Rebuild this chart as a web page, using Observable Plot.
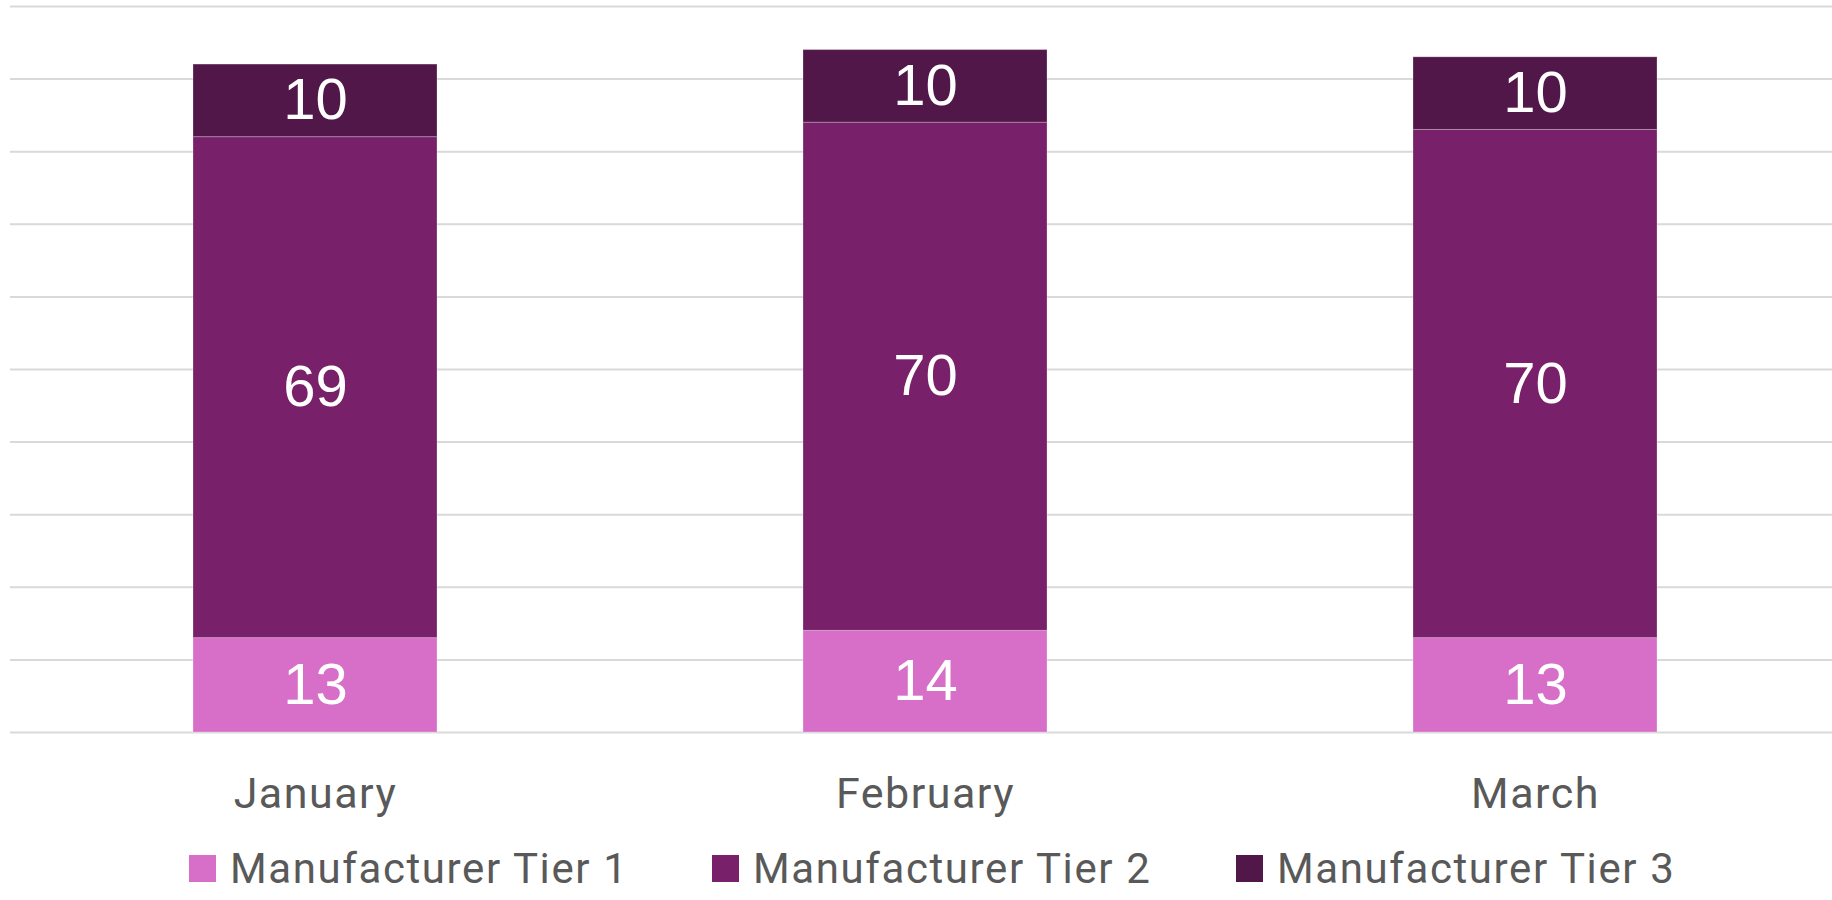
<!DOCTYPE html>
<html>
<head>
<meta charset="utf-8">
<script src="https://cdn.jsdelivr.net/npm/d3@7"></script>
<script src="https://cdn.jsdelivr.net/npm/@observablehq/plot@0.6"></script>
<style>
  html, body { margin: 0; padding: 0; background: #fff; }
  #chart svg { display: block; }
  #chart svg g[aria-label="x-axis tick label"] text { letter-spacing: 1.5px; }
  .legend { position: relative; height: 70px; font-family: Roboto, "Liberation Sans", sans-serif; font-size: 42px; color: #595959; letter-spacing: 1.6px; }
  .legend .item { position: absolute; top: 14px; display: flex; align-items: center; white-space: nowrap; }
  .legend .sw { width: 27px; height: 27px; margin-right: 14px; display: inline-block; }
</style>
</head>
<body>
<div id="chart"></div>
<div class="legend" id="legend"></div>
<script>
const months = ["January", "February", "March"];
const series = ["Manufacturer Tier 1", "Manufacturer Tier 2", "Manufacturer Tier 3"];
const tier1 = [13, 14, 13];
const tier2 = [69, 70, 70];
const tier3 = [10, 10, 10];
const colors = ["#D76EC8", "#782069", "#511749"];
const yTicks = [0, 10, 20, 30, 40, 50, 60, 70, 80, 90, 100];

const values = [tier1, tier2, tier3];
const data = [];
series.forEach((s, si) => months.forEach((m, mi) => data.push({month: m, series: s, value: values[si][mi]})));

const chart = Plot.plot({
  width: 1832,
  height: 830,
  marginLeft: 10,
  marginRight: 0,
  marginTop: 6,
  marginBottom: 98,
  x: {type: "band", domain: months, range: [10, 1840], paddingInner: 0.6, paddingOuter: 0.3, align: 0.5, label: null},
  y: {domain: [0, 100], axis: null},
  color: {domain: series, range: colors},
  style: {background: "#fff"},
  marks: [
    Plot.ruleY(yTicks, {stroke: "#D9D9D9", strokeWidth: 2}),
    Plot.barY(data, {x: "month", y: "value", fill: "series", order: series, stroke: "rgba(255,255,255,0.25)", strokeWidth: 1}),
    Plot.text(data, Plot.stackY({x: "month", y: "value", z: "series", order: series, text: d => String(d.value), fill: "#fff", fontSize: 58, fontFamily: "'Liberation Sans', Arial, sans-serif"})),
    Plot.axisX({tickSize: 0, tickPadding: 45, fontSize: 43, fontFamily: "Roboto, 'Liberation Sans', sans-serif", color: "#595959", label: null})
  ]
});
document.getElementById("chart").appendChild(chart);

const legend = document.getElementById("legend");
const lefts = [189, 712, 1236];
series.forEach((s, i) => {
  const it = document.createElement("div");
  it.className = "item";
  it.style.left = lefts[i] + "px";
  const sw = document.createElement("span");
  sw.className = "sw";
  sw.style.background = colors[i];
  const t = document.createElement("span");
  t.textContent = s;
  it.appendChild(sw); it.appendChild(t);
  legend.appendChild(it);
});
</script>
</body>
</html>
